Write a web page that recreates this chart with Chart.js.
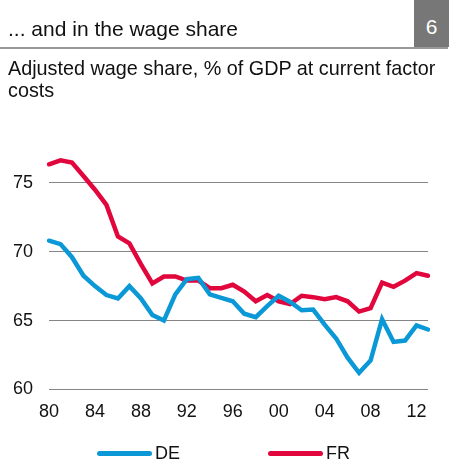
<!DOCTYPE html>
<html>
<head>
<meta charset="utf-8">
<script src="https://cdn.jsdelivr.net/npm/chart.js@4"></script>
<style>
  body { margin: 0; background: #fff; font-family: 'Liberation Sans', Arial, sans-serif; }
  #wrap { position: relative; width: 449px; height: 462px; overflow: hidden; }
  #head { position: absolute; left: 0; top: 0; width: 448px; height: 47px; border-bottom: 2px solid #999; }
  #head .title { position: absolute; left: 8px; top: 17px; font-size: 21px; color: #111; }
  #head .num { position: absolute; left: 414px; top: 0; width: 35px; height: 47px; background: #777; color: #fff;
               font-size: 21px; text-align: center; line-height: 53px; }
  #sub { position: absolute; left: 8px; top: 57px; font-size: 19.8px; line-height: 22px; color: #111; white-space: nowrap; }
  #box { position: absolute; left: 0; top: 0; width: 449px; height: 462px; }
  #legend { position: absolute; left: 0; top: 443px; width: 449px; height: 20px; font-size: 18px; color: #111; }
  #legend .item { position: absolute; top: 0; height: 20px; line-height: 20px; }
  #legend .swatch { position: absolute; left: 0; top: 8px; width: 55px; height: 5px; border-radius: 3px; }
  #legend .label { position: absolute; left: 58px; top: 0; }
</style>
</head>
<body>
<div id="wrap">
  <div id="box"><canvas id="myChart" width="449" height="462"></canvas></div>
  <div id="head"><span class="title">... and in the wage share</span><span class="num">6</span></div>
  <div id="sub">Adjusted wage share, % of GDP at current factor<br>costs</div>
  <div id="legend"></div>
</div>
<script>
Chart.defaults.font.family = "'Liberation Sans', Arial, sans-serif";

const years = [];
for (let y = 1980; y <= 2013; y++) years.push(y);

// Adjusted wage share, % of GDP at current factor costs
const de = [70.8, 70.55, 69.6, 68.25, 67.5, 66.85, 66.6, 67.5, 66.6, 65.4,
            65.0, 66.9, 68.0, 68.1, 66.9, 66.65, 66.4, 65.5, 65.25, 66.05,
            66.8, 66.35, 65.75, 65.8, 64.7, 63.7, 62.3, 61.2, 62.1, 65.1,
            63.45, 63.55, 64.65, 64.35];
const fr = [76.35, 76.64, 76.47, 75.5, 74.5, 73.4, 71.1, 70.6, 69.1, 67.7,
            68.2, 68.2, 67.9, 67.9, 67.35, 67.35, 67.6, 67.1, 66.4, 66.85,
            66.4, 66.2, 66.8, 66.7, 66.55, 66.7, 66.4, 65.65, 65.9, 67.75,
            67.45, 67.9, 68.45, 68.25];
const yTicks = [60, 65, 70, 75];

const seriesColors = { DE: '#0a98d6', FR: '#e1063c' };

const ctx = document.getElementById('myChart');

const myChart = new Chart(ctx, {
    type: 'line',
    data: {
        labels: years,
        datasets: [
            {
                label: 'DE',
                data: de,
                borderColor: seriesColors.DE,
                backgroundColor: seriesColors.DE,
                borderWidth: 4.5,
                pointRadius: 0,
                tension: 0,
                borderCapStyle: 'round'
            },
            {
                label: 'FR',
                data: fr,
                borderColor: seriesColors.FR,
                backgroundColor: seriesColors.FR,
                borderWidth: 4.5,
                pointRadius: 0,
                tension: 0,
                borderCapStyle: 'round'
            }
        ]
    },
    options: {
        responsive: false,
        animation: false,
        layout: {
            padding: { left: -3, right: 21, top: 114, bottom: 35 }
        },
        scales: {
            x: {
                type: 'category',
                offset: false,
                grid: { display: false },
                border: { display: false },
                ticks: {
                    autoSkip: false,
                    maxRotation: 0,
                    padding: 4,
                    color: '#111',
                    font: { size: 18 },
                    callback: function (value, index) {
                        const yr = years[index];
                        return (yr - 1980) % 4 === 0 ? String(yr).slice(2) : null;
                    }
                }
            },
            y: {
                min: 60,
                max: 80,
                border: { display: false },
                grid: { color: '#858585', lineWidth: 1, drawTicks: false },
                afterBuildTicks: function (axis) {
                    axis.ticks = yTicks.map(v => ({ value: v }));
                },
                ticks: {
                    padding: 16,
                    color: '#111',
                    font: { size: 18 }
                }
            }
        },
        plugins: {
            legend: { display: false },
            tooltip: { enabled: false }
        }
    }
});

// legend below the chart, one entry per dataset
const legendPos = [97, 268];
const legendEl = document.getElementById('legend');
myChart.data.datasets.forEach((ds, i) => {
    const item = document.createElement('div');
    item.className = 'item';
    item.style.left = legendPos[i] + 'px';
    item.innerHTML = '<span class="swatch" style="background:' + ds.borderColor + '"></span>' +
                     '<span class="label">' + ds.label + '</span>';
    legendEl.appendChild(item);
});
</script>
</body>
</html>
